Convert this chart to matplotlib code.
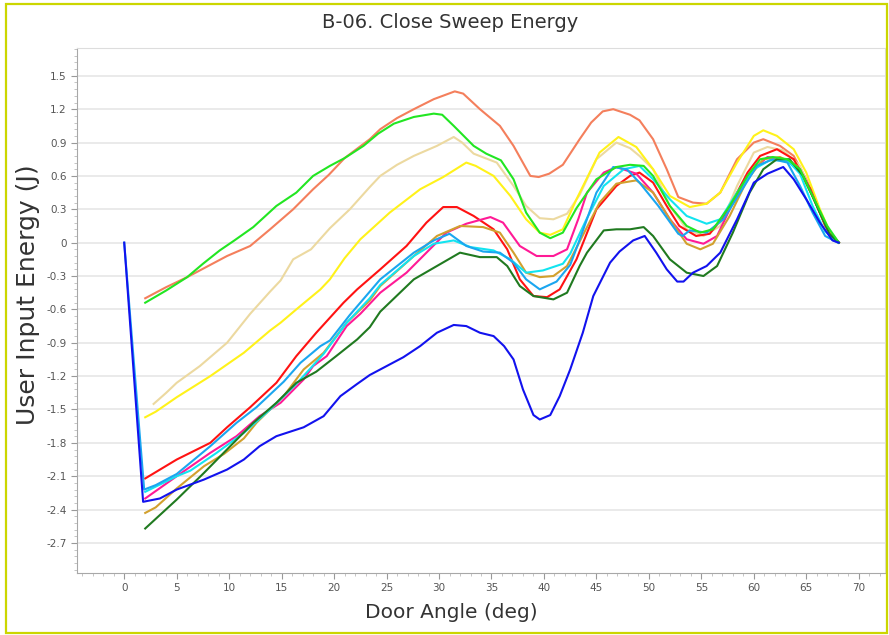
import numpy as np
import matplotlib
matplotlib.use("Agg")
import matplotlib.pyplot as plt
from matplotlib.patches import Rectangle
from matplotlib.ticker import MultipleLocator, FuncFormatter

# ####################################################################
# data (door angle in deg, energy in J)

coral_x = [2, 4, 6, 8, 9.8, 12, 13.9, 16.1, 18, 19.5, 21, 23.4, 24.4, 26, 27.6, 29.5, 31.5, 32.3,
           33.9, 35.8, 37.1, 38.7, 39.5, 40.5, 41.8, 43.4, 44.5, 45.6, 46.6, 48.2, 49.1, 50.4, 51.7,
           52.8, 54.2, 55.5, 56.8, 58.4, 60, 60.9, 62.5, 63.8, 65, 66.3, 67.6, 68.1]
coral_y = [-0.50, -0.40, -0.31, -0.21, -0.12, -0.03, 0.12, 0.30, 0.48, 0.61, 0.76, 0.93, 1.02, 1.12,
           1.20, 1.29, 1.36, 1.34, 1.20, 1.05, 0.87, 0.60, 0.59, 0.62, 0.70, 0.93, 1.08, 1.18, 1.20,
           1.15, 1.10, 0.93, 0.66, 0.41, 0.36, 0.35, 0.45, 0.75, 0.90, 0.93, 0.87, 0.78, 0.57, 0.27,
           0.03, 0.0]

green_x = [2, 4, 6, 7.5, 9.1, 10.5, 12.3, 14.5, 16.4, 18, 19.6, 21, 22.8, 24.2, 25.7, 27.6, 29.5,
           30.3, 31.4, 33.3, 34.5, 35.9, 37.1, 38.3, 39.6, 40.6, 41.8, 43.1, 45, 46.9, 48.2, 49.5,
           50.4, 52, 53.6, 54.9, 56.1, 57.7, 59.4, 60.6, 61.8, 63.2, 64.4, 65.6, 67, 68.1]
green_y = [-0.54, -0.43, -0.31, -0.19, -0.07, 0.02, 0.14, 0.33, 0.45, 0.60, 0.69, 0.76, 0.87, 0.98,
           1.07, 1.13, 1.16, 1.15, 1.05, 0.87, 0.80, 0.74, 0.57, 0.27, 0.09, 0.04, 0.09, 0.31, 0.57,
           0.68, 0.70, 0.69, 0.60, 0.33, 0.15, 0.09, 0.12, 0.33, 0.60, 0.75, 0.77, 0.75, 0.66, 0.42,
           0.15, 0.0]

wheat_x = [2.8, 4, 5, 7.2, 9.8, 12, 13.9, 14.9, 16.1, 17.8, 19.6, 21.5, 23.4, 24.4, 26, 27.6, 29.8,
           31.4, 32.2, 33.3, 35.5, 37.1, 38.3, 39.6, 40.9, 42.2, 43.4, 45, 46.9, 48.2, 49.1, 50.4, 52,
           53.6, 55.2, 56.8, 58.4, 60, 61.3, 62.8, 64.4, 65.6, 67, 68.1]
wheat_y = [-1.45, -1.35, -1.26, -1.11, -0.90, -0.64, -0.44, -0.34, -0.15, -0.06, 0.13, 0.30, 0.50,
           0.60, 0.70, 0.78, 0.87, 0.95, 0.90, 0.80, 0.72, 0.51, 0.33, 0.22, 0.21, 0.26, 0.43, 0.75,
           0.90, 0.85, 0.78, 0.66, 0.33, 0.12, 0.06, 0.15, 0.51, 0.81, 0.86, 0.83, 0.69, 0.42, 0.13,
           0.0]

yellow_x = [2, 3, 5, 8.2, 11.4, 13.9, 14.9, 16.4, 18.7, 19.6, 21, 22.5, 25.3, 28.2, 30.4, 32.6, 33.5,
            35.2, 36.8, 38.3, 39.6, 40.6, 41.8, 43.1, 45.3, 47.1, 48.8, 50.4, 52, 53.9, 55.5, 56.8,
            58.4, 60, 60.9, 62.2, 63.8, 65, 66.3, 67.5, 68.1]
yellow_y = [-1.57, -1.52, -1.39, -1.20, -0.99, -0.79, -0.72, -0.60, -0.42, -0.33, -0.14, 0.03, 0.27,
            0.48, 0.59, 0.72, 0.69, 0.60, 0.42, 0.21, 0.09, 0.07, 0.12, 0.39, 0.81, 0.95, 0.86, 0.66,
            0.42, 0.32, 0.35, 0.45, 0.72, 0.96, 1.01, 0.96, 0.84, 0.63, 0.30, 0.04, 0.0]

red_x = [2, 5, 8.2, 9.8, 12, 14.5, 16.4, 18.3, 20.9, 22.2, 24.4, 26.9, 28.8, 30.4, 31.7, 33.3, 35.2,
         36.5, 37.7, 39, 40.3, 41.5, 43.1, 45, 46.9, 48.2, 49.1, 50.4, 51.7, 52.9, 54.5, 55.8, 57.4,
         59.4, 60.6, 62.2, 63.8, 65.4, 66.8, 68.1]
red_y = [-2.12, -1.95, -1.80, -1.66, -1.48, -1.26, -1.02, -0.81, -0.54, -0.42, -0.24, -0.03, 0.18,
         0.32, 0.32, 0.24, 0.12, -0.06, -0.33, -0.48, -0.49, -0.42, -0.15, 0.30, 0.51, 0.60, 0.63,
         0.54, 0.33, 0.15, 0.06, 0.08, 0.27, 0.63, 0.78, 0.84, 0.75, 0.48, 0.15, 0.0]

pink_x = [2, 5, 8.2, 10.7, 12.9, 14.9, 17.1, 18, 19.3, 21.2, 22.5, 24.4, 26.9, 28.8, 30.7, 32.6,
          34.9, 36.1, 37.7, 39.3, 40.9, 42.2, 43.3, 44.1, 45.7, 46.9, 48.8, 50.4, 52, 53.6, 55.2,
          56.5, 58, 59.6, 61.3, 62.8, 64.4, 65.6, 67, 68.1]
pink_y = [-2.30, -2.10, -1.89, -1.74, -1.56, -1.44, -1.23, -1.11, -1.02, -0.75, -0.64, -0.45, -0.27,
          -0.09, 0.09, 0.17, 0.23, 0.18, -0.03, -0.12, -0.12, -0.06, 0.22, 0.45, 0.63, 0.68, 0.62,
          0.45, 0.21, 0.03, -0.01, 0.06, 0.36, 0.63, 0.77, 0.75, 0.66, 0.42, 0.12, 0.0]

gold_x = [2, 3, 5, 7.6, 9.5, 11.4, 12.6, 15.2, 17.1, 19, 21.2, 23.4, 24.4, 27.6, 29.8, 32, 34.2,
          35.8, 37.1, 38.3, 39.6, 40.9, 42.2, 43.4, 45.3, 46.9, 48.8, 50.4, 52, 53.6, 54.9, 56.1,
          57.7, 59.4, 60.9, 62.5, 64.1, 65.6, 67, 68.1]
gold_y = [-2.43, -2.38, -2.21, -2.01, -1.90, -1.76, -1.62, -1.38, -1.14, -0.99, -0.72, -0.52, -0.39,
          -0.12, 0.06, 0.15, 0.14, 0.09, -0.09, -0.27, -0.31, -0.30, -0.21, 0.01, 0.36, 0.53, 0.56,
          0.45, 0.21, -0.01, -0.06, -0.01, 0.24, 0.57, 0.75, 0.77, 0.69, 0.42, 0.12, 0.0]

cyan_x = [2, 5, 6.3, 8.8, 11.4, 13.9, 16.4, 19, 21.2, 23.4, 24.4, 27.6, 29.5, 31.4, 33, 35.2, 36.8,
          38.3, 39.9, 41.8, 42.5, 44.1, 45.7, 47.6, 49.1, 50.4, 52, 53.6, 55.5, 56.8, 58.4, 60, 61.5,
          63.2, 64.4, 65.6, 66.8, 68.1]
cyan_y = [-2.24, -2.10, -2.05, -1.89, -1.71, -1.50, -1.27, -1.00, -0.72, -0.50, -0.38, -0.12, -0.01,
          0.02, -0.04, -0.07, -0.15, -0.27, -0.25, -0.19, -0.10, 0.22, 0.51, 0.66, 0.69, 0.57, 0.39,
          0.24, 0.17, 0.21, 0.45, 0.66, 0.74, 0.74, 0.62, 0.33, 0.10, 0.0]

sky_x = [0, 1.9, 3, 5, 8.2, 10.7, 12.6, 15.2, 16.8, 18.7, 19.6, 21.5, 24.4, 27.6, 29.5, 31, 32.6,
         34.2, 35.8, 37.1, 38.3, 39.6, 41.2, 42.5, 43.3, 45, 46.6, 47.9, 49.1, 50.9, 52.8, 53.2,
         53.9, 55.5, 57.1, 58.7, 60.3, 61.8, 63.2, 64.4, 65.6, 66.8, 68]
sky_y = [0.0, -2.22, -2.18, -2.08, -1.83, -1.62, -1.48, -1.25, -1.08, -0.93, -0.88, -0.65, -0.33,
         -0.09, 0.02, 0.08, -0.03, -0.08, -0.09, -0.18, -0.33, -0.42, -0.35, -0.20, 0.0, 0.45, 0.68,
         0.66, 0.54, 0.33, 0.08, 0.06, 0.11, 0.09, 0.21, 0.45, 0.69, 0.75, 0.72, 0.51, 0.27, 0.06,
         0.0]

dkgreen_x = [2, 5, 7.6, 10.1, 12.3, 14.5, 16.4, 18.3, 20.2, 22.2, 23.4, 24.4, 27.6, 29.8, 32, 33.9,
             35.5, 36.5, 37.7, 39, 40.9, 42.2, 43.4, 44.1, 45.7, 46.9, 48.2, 49.5, 50.4, 52, 53.6,
             55.2, 56.5, 58, 59.6, 60.9, 62.2, 63.4, 64.7, 66, 67.2, 68.1]
dkgreen_y = [-2.57, -2.31, -2.07, -1.83, -1.62, -1.44, -1.26, -1.16, -1.02, -0.87, -0.76, -0.62,
             -0.33, -0.21, -0.09, -0.13, -0.13, -0.21, -0.39, -0.48, -0.51, -0.45, -0.21, -0.09,
             0.11, 0.12, 0.12, 0.14, 0.06, -0.15, -0.27, -0.30, -0.21, 0.09, 0.45, 0.66, 0.75, 0.75,
             0.60, 0.33, 0.08, 0.0]

blue_x = [0, 1.8, 3.4, 5, 7.6, 9.8, 11.4, 12.9, 14.5, 17.1, 19, 20.6, 22.2, 23.4, 26.6, 28.2, 29.8,
          31.4, 32.6, 33.9, 35.2, 36.2, 37.1, 38, 39, 39.6, 40.6, 41.5, 42.5, 43.7, 44.7, 46.3, 47.2,
          48.5, 49.6, 50.7, 51.7, 52.7, 53.3, 54.2, 55.5, 56.8, 58.4, 60, 61.3, 62.8, 63.8, 65,
          66.3, 67.5, 68.1]
blue_y = [0.0, -2.33, -2.30, -2.22, -2.13, -2.04, -1.95, -1.83, -1.74, -1.66, -1.56, -1.38, -1.27,
          -1.19, -1.03, -0.93, -0.81, -0.74, -0.75, -0.81, -0.84, -0.93, -1.05, -1.32, -1.55, -1.59,
          -1.55, -1.38, -1.14, -0.81, -0.48, -0.18, -0.08, 0.02, 0.06, -0.09, -0.24, -0.35, -0.35,
          -0.27, -0.21, -0.09, 0.21, 0.54, 0.62, 0.68, 0.57, 0.39, 0.18, 0.02, 0.0]

series = [
    (coral_x, coral_y, '#f47f5c'),
    (wheat_x, wheat_y, '#ecd9a0'),
    (yellow_x, yellow_y, '#fff21a'),
    (red_x, red_y, '#ff1212'),
    (pink_x, pink_y, '#ff1a96'),
    (gold_x, gold_y, '#d2a02e'),
    (cyan_x, cyan_y, '#12e4f0'),
    (sky_x, sky_y, '#1aa6f0'),
    (dkgreen_x, dkgreen_y, '#207a20'),
    (green_x, green_y, '#22e622'),
    (blue_x, blue_y, '#1212ee'),
]

# ####################################################################
# plot

fig = plt.figure(figsize=(8.89, 6.35), dpi=100)
ax = fig.add_axes([77/889, 1 - 573/635, (885 - 77)/889, (573 - 48)/635])

for x, y, c in series:
    ax.plot(x, y, color=c, lw=1.5, solid_joinstyle='round')

ax.set_xlim(-4.5, 72.5)
ax.set_ylim(-2.97, 1.75)

ax.xaxis.set_minor_locator(MultipleLocator(1))
ax.yaxis.set_minor_locator(MultipleLocator(0.06))
ax.set_xticks(np.arange(0, 71, 5))
ax.set_yticks(np.arange(-2.7, 1.51, 0.3))
ax.yaxis.set_major_formatter(FuncFormatter(lambda v, p: "0" if abs(v) < 1e-9 else f"{v:.1f}"))

ax.grid(axis='y', color='#e6e6e6', lw=1.2)
ax.set_axisbelow(True)

for s in ['left', 'bottom']:
    ax.spines[s].set_color('#a8a8a8')
for s in ['top', 'right']:
    ax.spines[s].set_color('#dddddd')

ax.tick_params(which='major', length=4, color='#999999', labelsize=7.5, labelcolor='#555555')
ax.tick_params(which='minor', length=2, color='#bbbbbb')

# labels placed where the reference has them
fig.text(451/889, 1 - 613/635, "Door Angle (deg)", ha='center', va='center',
         fontsize=14.5, color='#333333')
fig.text(28/889, 1 - 295/635, "User Input Energy (J)", ha='center', va='center',
         rotation=90, fontsize=18, color='#333333')
fig.text(450/889, 1 - 22/635, "B-06. Close Sweep Energy", ha='center', va='center',
         fontsize=14, color='#333333')

# yellow-green border round the whole picture
fig.add_artist(Rectangle((6/889, 2/635), 881/889, 629/635, transform=fig.transFigure,
                         fill=False, ec='#cbd600', lw=1.6))

plt.savefig("out.png", dpi=100)
